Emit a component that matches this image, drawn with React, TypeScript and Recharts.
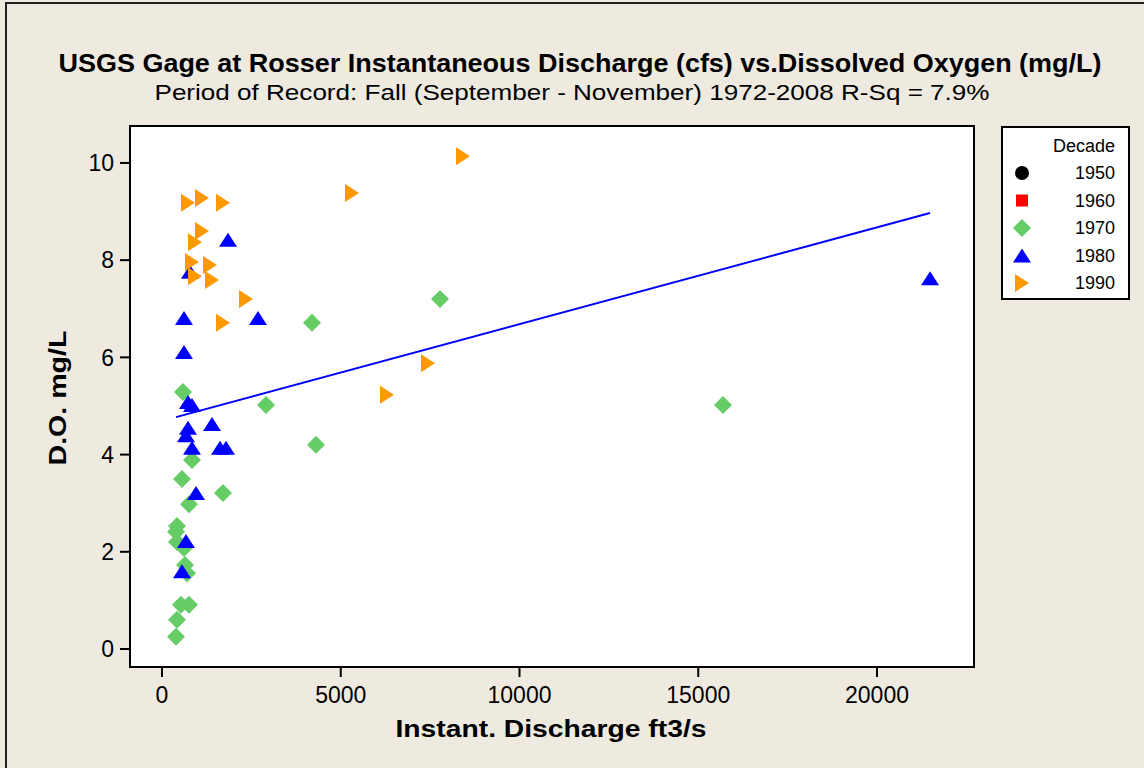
import { ScatterChart, Scatter, XAxis, YAxis, ReferenceLine, ReferenceArea, CartesianGrid } from "recharts"

// Rosser gage: discharge (cfs) vs dissolved oxygen, fall samples by decade.

const GREEN = "#66CC66"
const BLUE = "#0000FF"
const ORANGE = "#FF9900"
const BG = "#EEEAE0"
const FONT = "'Liberation Sans', Arial, sans-serif"

const discharge1970 = [587, 2909, 839, 559, 1706, 755, 420, 392, 420, 615, 643, 699, 531, 755, 420, 392, 4196, 7776, 4308, 15692]
const oxygen1970 = [5.29, 5.02, 3.89, 3.5, 3.21, 2.98, 2.53, 2.41, 2.2, 2.08, 1.73, 1.56, 0.91, 0.91, 0.6, 0.25, 6.71, 7.2, 4.2, 5.02]

const discharge1980 = [1846, 783, 615, 2685, 615, 21483, 727, 839, 727, 671, 1399, 839, 1622, 1790, 951, 671, 559]
const oxygen1980 = [8.42, 7.76, 6.81, 6.81, 6.11, 7.63, 5.08, 5.02, 4.55, 4.4, 4.63, 4.14, 4.14, 4.14, 3.21, 2.22, 1.6]

const discharge1990 = [727, 1119, 1706, 1119, 923, 839, 1343, 923, 1399, 2350, 1706, 5315, 8420, 7441, 6294]
const oxygen1990 = [9.18, 9.28, 9.18, 8.6, 8.37, 7.96, 7.9, 7.67, 7.59, 7.2, 6.71, 9.38, 10.14, 5.88, 5.23]

// fitted line, end points
const fitLine = [
  { x: 392, y: 4.77 },
  { x: 21483, y: 8.97 },
]

const xDomain = [-895, 22713]
const yDomain = [-0.37, 10.76]
const xTicks = [0, 5000, 10000, 15000, 20000]
const yTicks = [0, 2, 4, 6, 8, 10]
const decades = ["1950", "1960", "1970", "1980", "1990"]

const toPoints = (xs: number[], ys: number[]) => xs.map((x, i) => ({ x, y: ys[i] }))

const Diamond = (p: any) => (
  <polygon points={`${p.cx},${p.cy - 9} ${p.cx + 9},${p.cy} ${p.cx},${p.cy + 9} ${p.cx - 9},${p.cy}`} fill={GREEN} />
)
const TriUp = (p: any) => (
  <polygon points={`${p.cx},${p.cy - 7} ${p.cx + 9},${p.cy + 7} ${p.cx - 9},${p.cy + 7}`} fill={BLUE} />
)
const TriRight = (p: any) => (
  <polygon points={`${p.cx - 7},${p.cy - 9} ${p.cx + 7},${p.cy} ${p.cx - 7},${p.cy + 9}`} fill={ORANGE} />
)

function LegendSymbol({ i, cx, cy }: { i: number; cx: number; cy: number }) {
  if (i === 0) return <circle cx={cx} cy={cy} r={7} fill="#000" />
  if (i === 1) return <rect x={cx - 6} y={cy - 6} width={12} height={12} fill="#FF0000" />
  if (i === 2) return <Diamond cx={cx} cy={cy} />
  if (i === 3) return <TriUp cx={cx} cy={cy} />
  return <TriRight cx={cx} cy={cy} />
}

function DecadeLegend() {
  return (
    <svg width={130} height={175} style={{ display: "block" }}>
      <rect x={1} y={1} width={127} height={172} fill="#fff" stroke="#000" strokeWidth={2} />
      <text x={114} y={26} textAnchor="end" fontSize={18} fontFamily={FONT} fill="#000">Decade</text>
      {decades.map((d, i) => {
        const cy = 47 + i * 27.5
        return (
          <g key={d}>
            <LegendSymbol i={i} cx={21} cy={cy} />
            <text x={114} y={cy + 6} textAnchor="end" fontSize={18} fontFamily={FONT} fill="#000">{d}</text>
          </g>
        )
      })}
    </svg>
  )
}

const tickStyle = { fontSize: 23, fill: "#000", fontFamily: FONT }

export default function App() {
  return (
    <div style={{ position: "absolute", left: 0, top: 0, width: 1144, height: 768, background: BG, overflow: "hidden" }}>
      <ScatterChart width={1144} height={768} margin={{ top: 126, right: 170, left: 70, bottom: 41 }}>
        <CartesianGrid horizontal={false} vertical={false} fill="#fff" />
        <XAxis
          type="number"
          dataKey="x"
          domain={xDomain}
          ticks={xTicks}
          allowDataOverflow
          height={60}
          tick={tickStyle}
          tickSize={10}
          tickMargin={10}
          axisLine={{ stroke: "#000", strokeWidth: 2 }}
          tickLine={{ stroke: "#000", strokeWidth: 2 }}
        />
        <YAxis
          type="number"
          dataKey="y"
          domain={yDomain}
          ticks={yTicks}
          allowDataOverflow
          width={60}
          tick={tickStyle}
          tickSize={10}
          tickMargin={6}
          axisLine={{ stroke: "#000", strokeWidth: 2 }}
          tickLine={{ stroke: "#000", strokeWidth: 2 }}
        />
        <Scatter name="1970" data={toPoints(discharge1970, oxygen1970)} shape={Diamond} isAnimationActive={false} />
        <Scatter name="1980" data={toPoints(discharge1980, oxygen1980)} shape={TriUp} isAnimationActive={false} />
        <Scatter name="1990" data={toPoints(discharge1990, oxygen1990)} shape={TriRight} isAnimationActive={false} />
        <ReferenceLine segment={fitLine} stroke={BLUE} strokeWidth={2} />
        <ReferenceArea x1={xDomain[0]} x2={xDomain[1]} y1={yDomain[0]} y2={yDomain[1]} fill="none" fillOpacity={0} stroke="#000" strokeWidth={2} />
      </ScatterChart>
      <div style={{ position: "absolute", left: 1001, top: 126 }}>
        <DecadeLegend />
      </div>
      <svg width={1144} height={768} style={{ position: "absolute", left: 0, top: 0, pointerEvents: "none" }}>
        <rect x={6} y={3} width={1300} height={900} fill="none" stroke="#222" strokeWidth={2} />
        <text x={580} y={72} textAnchor="middle" fontSize={25} fontWeight="bold" fontFamily={FONT} textLength={1043} lengthAdjust="spacingAndGlyphs" fill="#000">
          USGS Gage at Rosser Instantaneous Discharge (cfs) vs.Dissolved Oxygen (mg/L)
        </text>
        <text x={572} y={100} textAnchor="middle" fontSize={22} fontFamily={FONT} textLength={835} lengthAdjust="spacingAndGlyphs" fill="#000">
          Period of Record: Fall (September - November) 1972-2008 R-Sq = 7.9%
        </text>
        <text x={551} y={737} textAnchor="middle" fontSize={23} fontWeight="bold" fontFamily={FONT} textLength={311} lengthAdjust="spacingAndGlyphs" fill="#000">
          Instant. Discharge ft3/s
        </text>
        <text x={66} y={398} transform="rotate(-90 66 398)" textAnchor="middle" fontSize={23} fontWeight="bold" fontFamily={FONT} textLength={135} lengthAdjust="spacingAndGlyphs" fill="#000">
          D.O. mg/L
        </text>
      </svg>
    </div>
  )
}
